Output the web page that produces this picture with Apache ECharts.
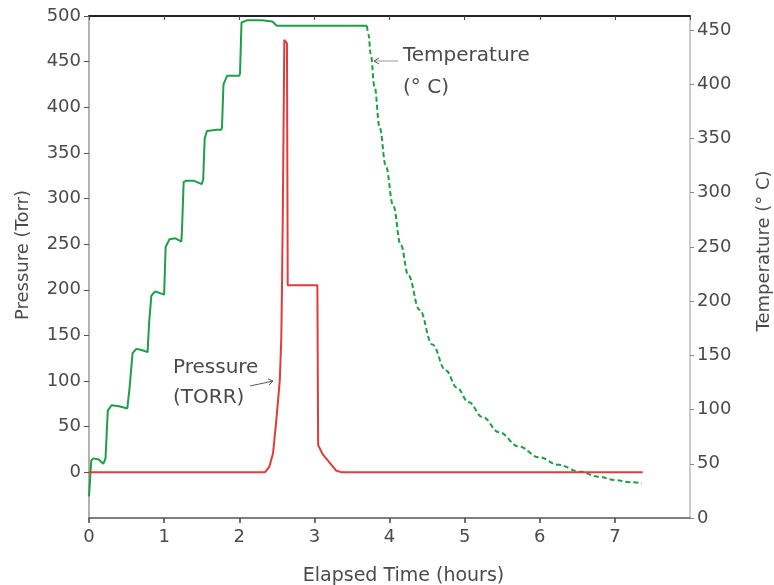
<!DOCTYPE html>
<html>
<head>
<meta charset="utf-8">
<script src="https://cdn.jsdelivr.net/npm/echarts@6/dist/echarts.min.js"></script>
<style>html,body{margin:0;padding:0;background:#fff}#c{width:774px;height:585px}</style>
</head>
<body>
<div id="c"></div>
<script>
// Elapsed time (hours) and values
const pressureTime = [0, 2.34, 2.40, 2.45, 2.49, 2.54, 2.56, 2.57, 2.58, 2.60, 2.635, 2.645, 3.04, 3.05, 3.11, 3.20, 3.29, 3.36, 7.37];
const pressureTorr = [0, 0, 6, 21, 54, 101, 148, 210, 285, 474, 470, 205, 205, 30, 20, 11, 2, 0, 0];

const heatTime = [0, 0.03, 0.06, 0.13, 0.19, 0.22, 0.25, 0.30, 0.40, 0.51, 0.54, 0.58, 0.63, 0.70, 0.78, 0.80, 0.83, 0.88, 1.0, 1.01, 1.02, 1.07, 1.15, 1.23, 1.24, 1.26, 1.30, 1.40, 1.50, 1.52, 1.54, 1.57, 1.70, 1.76, 1.77, 1.79, 1.84, 2.0, 2.01, 2.03, 2.10, 2.30, 2.44, 2.50, 3.70];
const heatTemp = [20, 53, 55, 54, 50, 55, 99, 104, 103, 101, 120, 152, 156, 155, 153, 180, 205, 209, 206, 205, 250, 257, 258, 255, 270, 310, 311, 311, 308, 312, 350, 357, 358, 358, 360, 400, 408, 408, 410, 457, 459, 459, 458, 454, 454];

const coolTime = [3.70, 3.72, 3.75, 3.80, 3.87, 3.95, 4.05, 4.15, 4.25, 4.40, 4.57, 4.75, 4.90, 5.05, 5.24, 5.46, 5.72, 5.99, 6.25, 6.52, 6.79, 7.00, 7.20, 7.36];
const coolTemp = [454, 446, 428, 398, 360, 325, 288, 252, 224, 192, 160, 136, 120, 107, 93, 79, 66, 56, 49, 43, 38, 35, 33, 32];

const xTicks = [0, 1, 2, 3, 4, 5, 6, 7];

const zip = (a, b) => a.map((v, i) => [v, b[i]]);
const FONT = 'DejaVu Sans';
const TXT = '#4a4a4a';

const chart = echarts.init(document.getElementById('c'), null, {renderer: 'canvas'});
chart.setOption({
  animation: false,
  backgroundColor: '#fff',
  grid: {left: 89, right: 84, top: 16, bottom: 67, containLabel: false, outerBoundsMode: 'none'},
  xAxis: [{
    type: 'value', min: 0, max: 8, interval: 1, position: 'bottom',
    name: 'Elapsed Time (hours)', nameLocation: 'middle', nameGap: 49,
    nameTextStyle: {fontFamily: FONT, fontSize: 19, color: TXT, padding: [0, 0, 0, 28]},
    axisLine: {onZero: false, lineStyle: {color: '#555', width: 1.5}},
    axisTick: {length: 5, lineStyle: {color: '#444', width: 1.5}},
    axisLabel: {fontFamily: FONT, fontSize: 18, color: TXT, margin: 10, showMaxLabel: false,
      formatter: v => xTicks.includes(v) ? String(v) : ''},
    splitLine: {show: false}
  }, {
    type: 'value', min: 0, max: 8, interval: 1, position: 'top',
    axisLine: {onZero: false, lineStyle: {color: '#222', width: 2}},
    axisTick: {inside: true, length: 4, lineStyle: {color: '#444'}},
    axisLabel: {show: false}, splitLine: {show: false}
  }],
  yAxis: [{
    type: 'value', min: -50, max: 500, interval: 50, position: 'left',
    name: 'Pressure (Torr)', nameLocation: 'middle', nameGap: 57, nameRotate: 90,
    nameTextStyle: {fontFamily: FONT, fontSize: 18, color: TXT, padding: [0, 0, 0, 24]},
    axisLine: {show: true, onZero: false, lineStyle: {color: '#999', width: 1.5}},
    axisTick: {show: true, length: 5, lineStyle: {color: '#555'}},
    axisLabel: {fontFamily: FONT, fontSize: 18, color: TXT, margin: 8, showMinLabel: false},
    splitLine: {show: false}
  }, {
    type: 'value', min: 0, max: 463, interval: 50, position: 'right',
    name: 'Temperature (° C)', nameLocation: 'middle', nameGap: 65, nameRotate: 90,
    nameTextStyle: {fontFamily: FONT, fontSize: 18, color: TXT, padding: [0, 0, 0, 32]},
    axisLine: {show: true, onZero: false, lineStyle: {color: '#bbb', width: 1.5}},
    axisTick: {show: true, length: 4, lineStyle: {color: '#888'}},
    axisLabel: {fontFamily: FONT, fontSize: 18, color: TXT, margin: 7, showMaxLabel: false},
    splitLine: {show: false}
  }],
  series: [{
    name: 'Pressure', type: 'line', xAxisIndex: 0, yAxisIndex: 0, showSymbol: false,
    data: zip(pressureTime, pressureTorr),
    lineStyle: {color: '#e03c3c', width: 2}, z: 3
  }, {
    name: 'Temperature heat', type: 'line', xAxisIndex: 0, yAxisIndex: 1, showSymbol: false,
    data: zip(heatTime, heatTemp),
    lineStyle: {color: '#1f9e48', width: 2}, z: 2
  }, {
    name: 'Temperature cool', type: 'line', xAxisIndex: 0, yAxisIndex: 1, showSymbol: false,
    data: zip(coolTime, coolTemp), smooth: 0.4, smoothMonotone: 'x',
    lineStyle: {color: '#1f9e48', width: 2, type: [5, 3]}, z: 2
  }],
  graphic: [
    {type: 'text', left: 403, top: 40, style: {text: 'Temperature\n(° C)', font: '20px "DejaVu Sans"', fill: TXT, lineHeight: 32}},
    {type: 'line', shape: {x1: 374, y1: 61, x2: 398, y2: 61}, style: {stroke: '#999', lineWidth: 1}},
    {type: 'polyline', shape: {points: [[379, 58], [374, 61], [379, 64]]}, style: {stroke: '#555', lineWidth: 1, fill: null}},
    {type: 'text', left: 173, top: 353, style: {text: 'Pressure\n(TORR)', font: '20px "DejaVu Sans"', fill: TXT, lineHeight: 30}},
    {type: 'line', shape: {x1: 250, y1: 386, x2: 273, y2: 381}, style: {stroke: '#555', lineWidth: 1}},
    {type: 'polyline', shape: {points: [[268, 379], [273, 381], [269, 385]]}, style: {stroke: '#555', lineWidth: 1, fill: null}}
  ]
});
</script>
</body>
</html>
